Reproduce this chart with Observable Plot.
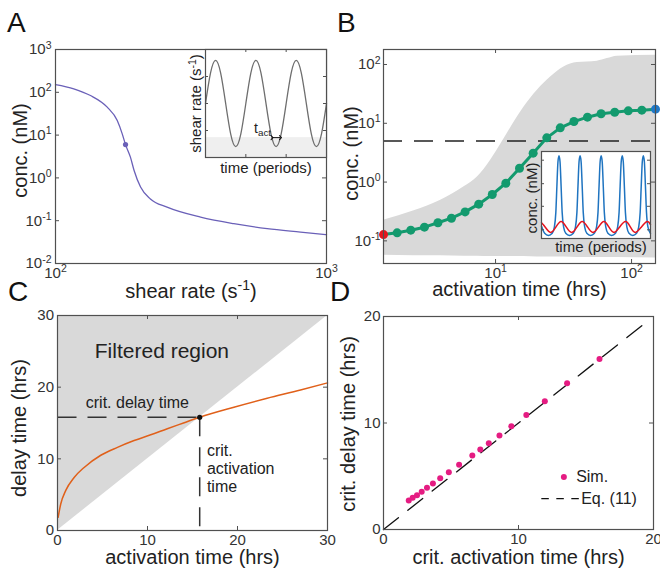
<!DOCTYPE html>
<html><head><meta charset="utf-8">
<script src="https://cdn.jsdelivr.net/npm/d3@7"></script>
<script src="https://cdn.jsdelivr.net/npm/@observablehq/plot@0.6"></script>
<style>
body{margin:0;background:#fff;}
#fig{position:relative;width:660px;height:570px;overflow:hidden;background:#fff;font-family:"Liberation Sans",Arial,Helvetica,sans-serif;}
.letter{position:absolute;font-size:28px;line-height:28px;color:#111;font-family:"Liberation Sans",Arial,Helvetica,sans-serif;}
</style></head><body><div id="fig"></div>
<script>
// ---------------- data ----------------
// Panel A: steady-state concentration vs shear rate
const shearA = [100, 116.8, 134.6, 155.2, 169, 176.3, 181.3, 189, 195, 206, 224, 258, 343, 455, 604, 802, 1000];
const concA  = [152, 121, 84, 44.9, 21.9, 10.7, 6.0, 3.05, 1.49, 0.61, 0.32, 0.207, 0.121, 0.085, 0.065, 0.054, 0.047];
const critShearA = [181.3];
const critConcA = [6.0];
const xTicksA = [100, 1000];
const yTicksA = [0.01, 0.1, 1, 10, 100, 1000];
// Panel A inset: oscillating shear rate
const periodsInsetA = [0,0.125,0.25,0.375,0.5,0.625,0.75,0.875,1,1.125,1.25,1.375,1.5,1.625,1.75,1.875,2,2.125,2.25,2.375,2.5,2.625,2.75,2.875,3];
const shearInsetA   = [0,0.71,1,0.71,0,-0.71,-1,-0.71,0,0.71,1,0.71,0,-0.71,-1,-0.71,0,0.71,1,0.71,0,-0.71,-1,-0.71,0];
const thresholdInsetA = -0.79;
const tAct = [1.65, 1.86];
const xTicksInsetA = [1, 2];
const yTicksInsetA = [-0.625, 0, 0.625];
// Panel B: mean concentration vs activation time
const actTimeB = [1.5, 1.89, 2.38, 3.0, 3.77, 4.74, 5.97, 7.52, 9.46, 11.9, 15.0, 18.9, 23.8, 29.9, 37.7, 47.4, 59.7, 75.2, 94.6, 119, 150];
const concB    = [0.128, 0.137, 0.152, 0.171, 0.203, 0.243, 0.311, 0.421, 0.615, 0.957, 1.72, 3.10, 5.65, 8.36, 10.7, 12.7, 14.5, 15.4, 16.3, 16.7, 17.4];
const bandX  = [1.5, 2.52, 3.95, 5.87, 7.35, 9.2, 11.2, 13.5, 16.2, 20.3, 25.4, 31.8, 39.9, 56, 66.3, 78.5, 150];
const bandHi = [0.225, 0.324, 0.492, 0.83, 1.22, 2.36, 4.83, 9.93, 19, 36.6, 61.5, 91, 108, 114, 126, 138, 144];
const bandLo = [0.057, 0.056, 0.056, 0.055, 0.055, 0.054, 0.054, 0.054, 0.054, 0.053, 0.053, 0.053, 0.052, 0.052, 0.052, 0.052, 0.051];
const thresholdB = 5;
const xTicksB = [10, 100];
const yTicksB = [0.1, 1, 10, 100];
// Panel B inset: concentration time courses
const blueT = [0,0.15,
 0.33,0.51,0.61,0.68,0.73,0.78,0.83,0.88,0.93,0.98,1.05,1.15,
 1.33,1.51,1.61,1.68,1.73,1.78,1.83,1.88,1.93,1.98,2.05,2.15,
 2.33,2.51,2.61,2.68,2.73,2.78,2.83,2.88,2.93,2.98,3.05,3.15,
 3.33,3.51,3.61,3.68,3.73,3.78,3.83,3.88,3.93,3.98,4.05,4.15,
 4.33,4.51,4.61,4.68,4.73,4.78,4.83,4.88,4.93,4.98,5.05,5.17];
const blueV = [0.14,0.06,
 0.035,0.06,0.13,0.3,0.6,0.88,0.95,0.88,0.6,0.3,0.13,0.06,
 0.035,0.06,0.13,0.3,0.6,0.88,0.95,0.88,0.6,0.3,0.13,0.06,
 0.035,0.06,0.13,0.3,0.6,0.88,0.95,0.88,0.6,0.3,0.13,0.06,
 0.035,0.06,0.13,0.3,0.6,0.88,0.95,0.88,0.6,0.3,0.13,0.06,
 0.035,0.06,0.13,0.3,0.6,0.88,0.95,0.88,0.6,0.3,0.13,0.058];
const redT = [0,0.18,0.43,0.68,0.93,1.18,1.43,1.68,1.93,2.19,2.44,2.7,2.96,3.2,3.44,3.7,3.99,4.22,4.45,4.73,5.01,5.17];
const redV = [0.18,0.13,0.07,0.13,0.195,0.13,0.07,0.13,0.195,0.13,0.07,0.13,0.195,0.13,0.07,0.13,0.195,0.13,0.07,0.13,0.195,0.16];
const yTicksInsetB = [0.1, 0.37, 0.63, 0.9];
// Panel C: delay time vs activation time
const actC   = [0.07, 0.36, 0.92, 1.85, 2.96, 4.81, 6.66, 8.51, 10.36, 12.2, 14.0, 15.8, 19.6, 23.3, 27.0, 30];
const delayC = [1.85, 3.7, 5.6, 7.4, 8.8, 10.5, 11.6, 12.55, 13.35, 14.2, 15.0, 15.8, 17.2, 18.45, 19.6, 20.6];
const critC = [15.8];
const ticksC = [0, 10, 20, 30];
// Panel D: critical delay vs critical activation time
const critAct   = [1.87, 2.16, 2.48, 2.83, 3.22, 3.66, 4.2, 4.84, 5.6, 6.58, 7.17, 7.8, 8.59, 9.47, 10.58, 11.95, 13.6, 16.0];
const critDelay = [2.72, 2.97, 3.22, 3.54, 3.91, 4.32, 4.82, 5.38, 6.07, 6.95, 7.51, 8.1, 8.83, 9.7, 10.74, 12.05, 13.74, 16.0];
const eqX = [0, 19.4];
const eqY = [0, 19.4];
const ticksD = [0, 10, 20];

// ---------------- helpers ----------------
const FONT = '"Liberation Sans", Arial, Helvetica, sans-serif';
const STYLE = `font-family:${FONT};font-size:15px;color:#222;background:transparent;overflow:visible;`;
const FRAME = "#505050";
const GREY = "#d9d9d9";
const fig = document.getElementById("fig");
const pow10 = d => `10^{${Math.round(Math.log10(d))}}`;
const LBL = {text: d => d, textAnchor: "middle", lineAnchor: "middle", fill: "#222"};

function inTicks(xt, yt, W, H, len = 4, color = FRAME) {
  const m = [];
  if (xt) m.push(
    Plot.ruleX(xt, {x: d => d, insetTop: H - len, stroke: color, strokeWidth: 1}),
    Plot.ruleX(xt, {x: d => d, insetBottom: H - len, stroke: color, strokeWidth: 1}));
  if (yt) m.push(
    Plot.ruleY(yt, {y: d => d, insetRight: W - len, stroke: color, strokeWidth: 1}),
    Plot.ruleY(yt, {y: d => d, insetLeft: W - len, stroke: color, strokeWidth: 1}));
  return m;
}
function supsub(root) {
  const NS = "http://www.w3.org/2000/svg";
  const els = Array.from(root.querySelectorAll("text, tspan"))
    .filter(e => e.childElementCount === 0 && /[\^_]\{/.test(e.textContent));
  for (const el of els) {
    const s = el.textContent; el.textContent = "";
    const re = /([\^_])\{([^}]*)\}/g;
    let last = 0, m, reset = null;
    const mk = (txt, attrs) => {
      const t = document.createElementNS(NS, "tspan");
      t.textContent = txt;
      for (const k in attrs) t.setAttribute(k, attrs[k]);
      el.appendChild(t);
    };
    while ((m = re.exec(s))) {
      if (m.index > last) { mk(s.slice(last, m.index), reset ? {dy: reset} : {}); reset = null; }
      if (m[1] === "^") { mk(m[2], {"font-size": "70%", dy: "-0.55em"}); reset = "0.385em"; }
      else { mk(m[2], {"font-size": "70%", dy: "0.3em"}); reset = "-0.21em"; }
      last = re.lastIndex;
    }
    if (last < s.length) mk(s.slice(last), reset ? {dy: reset} : {});
  }
}
function mount(svg, left, top) {
  svg.style.position = "absolute";
  svg.style.left = left + "px";
  svg.style.top = top + "px";
  svg.style.overflow = "visible";
  svg.style.background = "transparent";
  supsub(svg);
  fig.appendChild(svg);
}
function letter(t, left, top) {
  const d = document.createElement("div");
  d.className = "letter"; d.textContent = t;
  d.style.left = left + "px"; d.style.top = top + "px";
  fig.appendChild(d);
}
const axisOpts = {tickSize: 0, fontSize: 15, label: null, color: "#333"};

// ---------------- Panel A ----------------
{
  const W = 271, H = 214;
  const rows = shearA.map((s, i) => ({s, c: concA[i]}));
  const svg = Plot.plot({
    width: 330, height: 285, marginLeft: 55, marginRight: 4, marginTop: 49, marginBottom: 22,
    style: STYLE,
    x: {type: "log", domain: [100, 1000]},
    y: {type: "log", domain: [0.01, 1000]},
    marks: [
      Plot.line(rows, {x: "s", y: "c", stroke: "#6a60b8", strokeWidth: 1.3, curve: "monotone-x"}),
      Plot.dot(critShearA.map((s, i) => ({s, c: critConcA[i]})), {x: "s", y: "c", r: 2.6, fill: "#6a60b8"}),
      ...inTicks(xTicksA, yTicksA, W, H),
      Plot.frame({stroke: FRAME, strokeWidth: 1.2}),
      Plot.axisX({...axisOpts, ticks: xTicksA, tickFormat: pow10, tickPadding: 4}),
      Plot.axisY({...axisOpts, ticks: yTicksA, tickFormat: pow10, tickPadding: 4}),
      Plot.text(["conc. (nM)"], {...LBL, frameAnchor: "left", dx: -35, dy: -6, rotate: -90, fontSize: 20}),
      Plot.text(["shear rate (s^{-1})"], {...LBL, frameAnchor: "bottom", dy: 28, fontSize: 20})
    ]
  });
  mount(svg, 0, 0);
}
// ---------------- Panel B ----------------
{
  const W = 272, H = 214;
  const band = bandX.map((x, i) => ({x, lo: bandLo[i], hi: bandHi[i]}));
  const pts = actTimeB.map((t, i) => ({t, c: concB[i]}));
  const n = pts.length;
  const svg = Plot.plot({
    width: 330, height: 285, marginLeft: 53, marginRight: 5, marginTop: 49, marginBottom: 22,
    style: STYLE,
    x: {type: "log", domain: [1.5, 150]},
    y: {type: "log", domain: [Math.pow(10, -1.385), Math.pow(10, 2.255)]},
    marks: [
      Plot.areaY(band, {x: "x", y1: "lo", y2: "hi", fill: GREY, curve: "monotone-x"}),
      Plot.ruleY([thresholdB], {stroke: "#222", strokeWidth: 1.5, strokeDasharray: "19,12"}),
      Plot.line(pts, {x: "t", y: "c", stroke: "#139a6e", strokeWidth: 3}),
      Plot.dot(pts, {x: "t", y: "c", r: 4.5, fill: (d, i) => i === 0 ? "#e8141b" : i === n - 1 ? "#1f78c8" : "#139a6e"}),
      ...inTicks(xTicksB, yTicksB, W, H),
      Plot.frame({stroke: FRAME, strokeWidth: 1.2}),
      Plot.axisX({...axisOpts, ticks: xTicksB, tickFormat: pow10, tickPadding: 4}),
      Plot.axisY({...axisOpts, ticks: yTicksB, tickFormat: pow10, tickPadding: 3}),
      Plot.text(["conc. (nM)"], {...LBL, frameAnchor: "left", dx: -32, dy: -3, rotate: -90, fontSize: 20}),
      Plot.text(["activation time (hrs)"], {...LBL, frameAnchor: "bottom", dy: 26, fontSize: 20})
    ]
  });
  mount(svg, 330, 0);
}
// ---------------- Panel C ----------------
{
  const W = 270, H = 215;
  const curve = actC.map((x, i) => ({x, y: delayC[i]}));
  const c = critC[0];
  const svg = Plot.plot({
    width: 330, height: 285, marginLeft: 57, marginRight: 3, marginTop: 30, marginBottom: 40,
    style: STYLE,
    x: {domain: [0, 30]},
    y: {domain: [0, 30]},
    marks: [
      Plot.areaY([0, 30], {x: d => d, y1: d => d, y2: () => 30, fill: GREY}),
      Plot.link([{x1: 0, x2: c, y1: c, y2: c}, {x1: c, x2: c, y1: c, y2: 0}],
        {x1: "x1", x2: "x2", y1: "y1", y2: "y2", stroke: "#333", strokeWidth: 1.5, strokeDasharray: "19,11"}),
      Plot.line(curve, {x: "x", y: "y", stroke: "#e0601a", strokeWidth: 1.5, curve: "monotone-x"}),
      Plot.dot([{x: c, y: c}], {x: "x", y: "y", r: 2.6, fill: "#111"}),
      Plot.text(["Filtered region"], {...LBL, x: () => 11.6, y: () => 25.0, fontSize: 21}),
      Plot.text(["crit. delay time"], {...LBL, x: () => 8.87, y: () => 17.8, fontSize: 16}),
      Plot.text(["crit.\nactivation\ntime"], {...LBL, x: () => 16.6, y: () => 8.65, textAnchor: "start", lineHeight: 1.11, fontSize: 16}),
      ...inTicks(ticksC, ticksC, W, H),
      Plot.frame({stroke: FRAME, strokeWidth: 1.2}),
      Plot.axisX({...axisOpts, ticks: ticksC, tickPadding: 4}),
      Plot.axisY({...axisOpts, ticks: ticksC, tickPadding: 3.5}),
      Plot.text(["delay time (hrs)"], {...LBL, frameAnchor: "left", dx: -38, dy: 5, rotate: -90, fontSize: 20}),
      Plot.text(["activation time (hrs)"], {...LBL, frameAnchor: "bottom", dy: 27, fontSize: 20})
    ]
  });
  mount(svg, 0, 285);
}
// ---------------- Panel D ----------------
{
  const W = 270, H = 213;
  const pts = critAct.map((x, i) => ({x, y: critDelay[i]}));
  const eq = eqX.map((x, i) => ({x, y: eqY[i]}));
  const svg = Plot.plot({
    width: 330, height: 285, marginLeft: 53, marginRight: 7, marginTop: 31, marginBottom: 41,
    style: STYLE,
    x: {domain: [0, 20]},
    y: {domain: [0, 20]},
    marks: [
      Plot.line(eq, {x: "x", y: "y", stroke: "#111", strokeWidth: 1.3, strokeDasharray: "19,12"}),
      Plot.dot(pts, {x: "x", y: "y", r: 3, fill: "#e51c82"}),
      Plot.dot([{x: 13.36, y: 4.92}], {x: "x", y: "y", r: 3, fill: "#e51c82"}),
      Plot.text(["Sim."], {...LBL, x: () => 14.27, y: () => 4.92, textAnchor: "start", fontSize: 16}),
      Plot.link([{x1: 11.69, x2: 14.52, y: 2.89}], {x1: "x1", x2: "x2", y1: "y", y2: "y", stroke: "#111", strokeWidth: 1.3, strokeDasharray: "7.5,7.5"}),
      Plot.text(["Eq. (11)"], {...LBL, x: () => 14.64, y: () => 2.89, textAnchor: "start", fontSize: 16}),
      ...inTicks(ticksD, ticksD, W, H),
      Plot.frame({stroke: FRAME, strokeWidth: 1.2}),
      Plot.axisX({...axisOpts, ticks: ticksD, tickPadding: 4}),
      Plot.axisY({...axisOpts, ticks: ticksD, tickPadding: 3}),
      Plot.text(["crit. delay time (hrs)"], {...LBL, frameAnchor: "left", dx: -35, dy: 1, rotate: -90, fontSize: 20}),
      Plot.text(["crit. activation time (hrs)"], {...LBL, frameAnchor: "bottom", dy: 28, fontSize: 20})
    ]
  });
  mount(svg, 330, 285);
}
// ---------------- Inset A ----------------
{
  const W = 121, H = 108;
  const rows = periodsInsetA.map((t, i) => ({t, v: shearInsetA[i]}));
  const svg = Plot.plot({
    width: 150, height: 140, marginLeft: 25, marginRight: 4, marginTop: 9, marginBottom: 23,
    style: STYLE,
    x: {domain: [0, 3], axis: null},
    y: {domain: [-1.25, 1.25], axis: null},
    marks: [
      Plot.frame({fill: "white"}),
      Plot.rect([{x1: 0, x2: 3, y1: -1.25, y2: thresholdInsetA}], {x1: "x1", x2: "x2", y1: "y1", y2: "y2", fill: "#efefef"}),
      Plot.line(rows, {x: "t", y: "v", stroke: "#6e6e6e", strokeWidth: 1.3, curve: "natural"}),
      Plot.link([{x1: tAct[0], x2: tAct[1], y: thresholdInsetA}], {x1: "x1", x2: "x2", y1: "y", y2: "y", stroke: "#111", strokeWidth: 1, markerStart: "arrow", markerEnd: "arrow"}),
      Plot.text(["t_{act}"], {...LBL, x: () => tAct[0], y: () => thresholdInsetA, dy: -9.5, dx: -1, textAnchor: "end", fontSize: 14}),
      ...inTicks(xTicksInsetA, yTicksInsetA, W, H, 3),
      Plot.frame({stroke: FRAME, strokeWidth: 1.2}),
      Plot.text(["shear rate (s^{-1})"], {...LBL, frameAnchor: "left", dx: -9, rotate: -90, fontSize: 15}),
      Plot.text(["time (periods)"], {...LBL, frameAnchor: "bottom", dy: 11, fontSize: 15})
    ]
  });
  mount(svg, 180, 40);
}
// ---------------- Inset B ----------------
{
  const W = 109, H = 87;
  const blue = blueT.map((t, i) => ({t, v: blueV[i]}));
  const red = redT.map((t, i) => ({t, v: redV[i]}));
  const svg = Plot.plot({
    width: 140, height: 118, marginLeft: 26, marginRight: 5, marginTop: 11, marginBottom: 20,
    style: STYLE,
    x: {domain: [0, 5.17], axis: null},
    y: {domain: [0, 1], axis: null},
    marks: [
      Plot.frame({fill: "white"}),
      Plot.line(blue, {x: "t", y: "v", stroke: "#1f74c0", strokeWidth: 1.5, curve: "monotone-x"}),
      Plot.line(red, {x: "t", y: "v", stroke: "#e6141e", strokeWidth: 1.5, curve: "natural"}),
      ...inTicks(null, yTicksInsetB, W, H, 3),
      Plot.frame({stroke: FRAME, strokeWidth: 1.2}),
      Plot.text(["conc. (nM)"], {...LBL, frameAnchor: "left", dx: -9.5, dy: 3, rotate: -90, fontSize: 15}),
      Plot.text(["time (periods)"], {...LBL, frameAnchor: "bottom", dy: 9, dx: 5, fontSize: 15})
    ]
  });
  mount(svg, 515, 140);
}
letter("A", 7, 9);
letter("B", 337, 9);
letter("C", 8, 278);
letter("D", 330, 278);
</script>
</body></html>
